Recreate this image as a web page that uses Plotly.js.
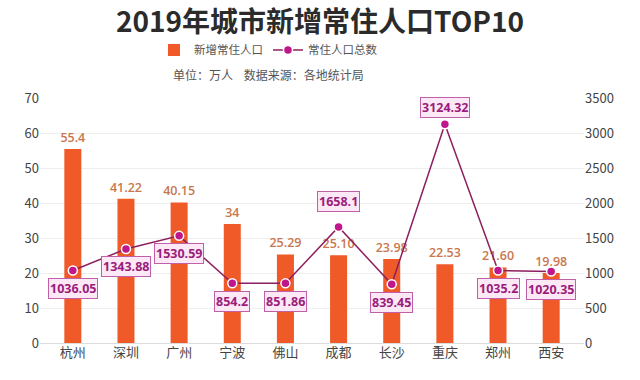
<!DOCTYPE html>
<html><head><meta charset="utf-8">
<script src="https://cdn.plot.ly/plotly-3.0.1.min.js"></script>
<style>html,body{margin:0;padding:0;background:#fff;}#chart{width:640px;height:380px;}</style>
</head><body><div id="chart"></div>
<script>
var cities = ['杭州','深圳','广州','宁波','佛山','成都','长沙','重庆','郑州','西安'];
var newPop = [55.4, 41.22, 40.15, 34, 25.29, 25.10, 23.98, 22.53, 21.60, 19.98];
var newPopLabels = ['55.4','41.22','40.15','34','25.29','25.10','23.98','22.53','21.60','19.98'];
var totalPop = [1036.05, 1343.88, 1530.59, 854.2, 851.86, 1658.1, 839.45, 3124.32, 1035.2, 1020.35];
var totalPopLabels = ['1036.05','1343.88','1530.59','854.2','851.86','1658.1','839.45','3124.32','1035.2','1020.35'];
var labelAbove = [false,false,false,false,false,true,false,true,false,false];

var font = 'Noto Sans CJK SC, Noto Sans, sans-serif';
var bar = {
  type:'bar', name:'新增常住人口', x:cities, y:newPop,
  text:newPopLabels, textposition:'outside', cliponaxis:false, constraintext:'none',
  textfont:{color:'#c8774e', size:12.5, family:'Open Sans, sans-serif', weight:600},
  marker:{color:'#ef5a28'}, width:0.32
};
var line = {
  type:'scatter', mode:'lines+markers', name:'常住人口总数', x:cities, y:totalPop, yaxis:'y2',
  line:{color:'#8e1f5e', width:1.5},
  marker:{color:'#c0168c', size:9, line:{color:'#ffffff', width:1.5}}
};
var ann = cities.map(function(c,i){
  return {x:c, y:totalPop[i], xref:'x', yref:'y2', text:'<b>'+totalPopLabels[i]+'</b>', showarrow:false,
    yshift: labelAbove[i] ? (i===5?25:17) : -18,
    font:{color:'#9a1d7c', size:12.5, family:'Open Sans, sans-serif'},
    bgcolor:'#fde8f6', bordercolor:'#c060a8', borderwidth:1, borderpad:1};
});
ann.push({xref:'paper', yref:'paper', x:0.42, y:1.094, text:'单位：万人    数据来源：各地统计局', showarrow:false,
  font:{color:'#555', size:12, family:font}, yanchor:'middle'});

var layout = {
  width:640, height:380,
  margin:{l:40, r:56, t:98, b:37},
  paper_bgcolor:'#ffffff', plot_bgcolor:'#ffffff',
  font:{family:font, color:'#444'},
  title:{text:'<b>2019年城市新增常住人口TOP10</b>', x:0.5, xanchor:'center', y:0.942, yanchor:'middle',
    font:{size:28, color:'#2b2b2b', family:font}},
  showlegend:true,
  legend:{orientation:'h', x:0.42, xanchor:'center', y:1.196, yanchor:'middle', font:{size:11.5, color:'#555', family:font}},
  xaxis:{type:'category', tickfont:{size:13, color:'#444'}, showline:false, ticks:''},
  yaxis:{range:[0,70], dtick:10, gridcolor:'#eeeeee', zeroline:true, zerolinecolor:'#dddddd', tickfont:{size:13, color:'#444'}, ticks:'', showline:false},
  yaxis2:{range:[0,3500], dtick:500, overlaying:'y', side:'right', showgrid:false, zeroline:false, tickfont:{size:13, color:'#444'}, ticks:'', showline:false},
  bargap:0.7,
  annotations:ann
};
Plotly.newPlot('chart',[bar,line],layout,{displayModeBar:false, staticPlot:true});
</script></body></html>
